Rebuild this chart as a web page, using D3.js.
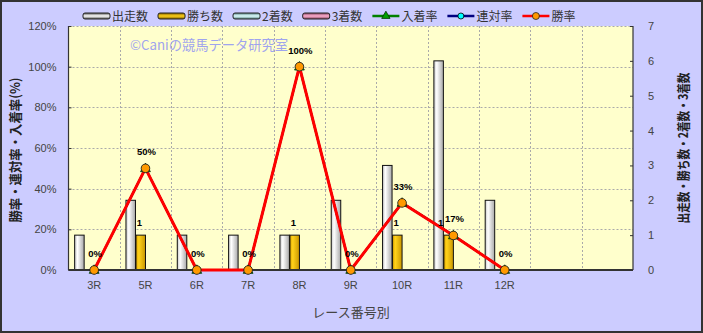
<!DOCTYPE html>
<html><head><meta charset="utf-8">
<script src="https://cdn.jsdelivr.net/npm/d3@7"></script>
<style>
html,body{margin:0;padding:0;background:#fff;}
svg{display:block;}
</style></head>
<body>
<svg id="chart" width="703" height="333"></svg>
<script>
// ---- data ----
const categories = ["3R","5R","6R","7R","8R","9R","10R","11R","12R"];
const emptySlots = ["_e1","_e2"];
const starts  = [1,2,1,1,1,2,3,6,2];      // 出走数
const wins    = [0,1,0,0,1,0,1,1,0];      // 勝ち数
const seconds = [0,0,0,0,0,0,0,0,0];      // 2着数
const thirds  = [0,0,0,0,0,0,0,0,0];      // 3着数
const placeRate = [0,50,0,0,100,0,33,17,0]; // 入着率 (%)
const rentaiRate = [0,50,0,0,100,0,33,17,0]; // 連対率 (%)
const winRate   = [0,50,0,0,100,0,33,17,0]; // 勝率 (%)
const leftTicks = [0,20,40,60,80,100,120];
const rightTicks = [0,1,2,3,4,5,6,7];
const barSeries = ["出走数","勝ち数","2着数","3着数"];
const lineSeries = ["入着率","連対率","勝率"];

const W = 703, H = 333;
const m = {left:68.5, right:633, top:26, bottom:270};
const svg = d3.select("#chart");
const defs = svg.append("defs");

// background
svg.append("rect").attr("x",0).attr("y",0).attr("width",W).attr("height",H).attr("fill","#CCCCFF");
svg.append("rect").attr("x",1).attr("y",1).attr("width",W-2).attr("height",H-2)
  .attr("fill","none").attr("stroke","#333").attr("stroke-width",2);

const x = d3.scaleBand().domain(categories.concat(emptySlots)).range([m.left, m.right]).padding(0);
const yL = d3.scaleLinear().domain([0,120]).range([m.bottom, m.top]);
const yR = d3.scaleLinear().domain([0,7]).range([m.bottom, m.top]);
const groupW = x.bandwidth()*0.78;
const x1 = d3.scaleBand().domain(barSeries).range([0, groupW]);

// plot area
svg.append("rect").attr("x",m.left).attr("y",m.top).attr("width",m.right-m.left).attr("height",m.bottom-m.top)
  .attr("fill","#FFFFCC");

// grid
const grid = svg.append("g").attr("stroke","#aaa").attr("stroke-width",1).attr("stroke-dasharray","2,2");
leftTicks.slice(1).forEach(t=>{
  grid.append("line").attr("x1",m.left).attr("x2",m.right).attr("y1",Math.round(yL(t))+0.5).attr("y2",Math.round(yL(t))+0.5);
});
x.domain().slice(1).forEach(d=>{
  const xx = Math.round(x(d))+0.5;
  grid.append("line").attr("x1",xx).attr("x2",xx).attr("y1",m.top).attr("y2",m.bottom);
});

// watermark
svg.append("text").attr("x",130).attr("y",50).attr("font-family","'Noto Sans CJK JP', sans-serif")
  .attr("font-size",13.5).attr("fill","#9FA4EE").attr("textLength",158).attr("lengthAdjust","spacingAndGlyphs")
  .text("©Caniの競馬データ研究室");

// gradients
function hGrad(id, edgeL, mid, edgeR){
  const g = defs.append("linearGradient").attr("id",id).attr("x1","0").attr("x2","1").attr("y1","0").attr("y2","0");
  g.append("stop").attr("offset","0%").attr("stop-color",edgeL);
  g.append("stop").attr("offset","30%").attr("stop-color",mid);
  g.append("stop").attr("offset","100%").attr("stop-color",edgeR);
}
function vGrad(id, edge, mid){
  const g = defs.append("linearGradient").attr("id",id).attr("x1","0").attr("x2","0").attr("y1","0").attr("y2","1");
  g.append("stop").attr("offset","0%").attr("stop-color",edge);
  g.append("stop").attr("offset","50%").attr("stop-color",mid);
  g.append("stop").attr("offset","100%").attr("stop-color",edge);
}
const barCols = [
  ["#c8c8c8","#ffffff","#a8a8a8"],
  ["#e0a800","#ffd21a","#c99600"],
  ["#a8e0e0","#e0ffff","#88c8c8"],
  ["#e080a8","#ffb0d0","#c86890"]
];
barCols.forEach((c,i)=>{ hGrad("bg"+i,c[0],c[1],c[2]); vGrad("lg"+i,i===0 ? "#555" : d3.color(c[2]).darker(1.2), c[1]); });

// bars
const barData = [starts, wins, seconds, thirds];
const bars = svg.append("g");
categories.forEach((cat,i)=>{
  const gx = x(cat) + (x.bandwidth()-groupW)/2;
  barSeries.forEach((s,j)=>{
    const v = barData[j][i];
    if (v <= 0) return;
    bars.append("rect")
      .attr("x", gx + x1(s)+0.5).attr("y", yR(v))
      .attr("width", x1.bandwidth()-0.5).attr("height", yR(0)-yR(v))
      .attr("fill","url(#bg"+j+")").attr("stroke","#111").attr("stroke-width",1);
  });
});

// axes lines
svg.append("line").attr("x1",m.left).attr("x2",m.left).attr("y1",m.top).attr("y2",m.bottom).attr("stroke","#333").attr("stroke-width",1.2);
svg.append("line").attr("x1",m.right).attr("x2",m.right).attr("y1",m.top).attr("y2",m.bottom).attr("stroke","#333").attr("stroke-width",1.2);
svg.append("line").attr("x1",m.left).attr("x2",m.right).attr("y1",m.bottom).attr("y2",m.bottom).attr("stroke","#333").attr("stroke-width",2);

// left axis
const gL = svg.append("g").attr("transform",`translate(${m.left},0)`)
  .call(d3.axisLeft(yL).tickValues(leftTicks).tickSize(-3).tickPadding(12).tickFormat(d=>d+"%"));
gL.select(".domain").remove();
gL.selectAll("line").attr("stroke","#333");
gL.selectAll("text").attr("font-family","'Liberation Sans', Arial, sans-serif").attr("font-size",11).attr("fill","#444");

// right axis
const gR = svg.append("g").attr("transform",`translate(${m.right},0)`)
  .call(d3.axisRight(yR).tickValues(rightTicks).tickSize(-3).tickPadding(15).tickFormat(d3.format("d")));
gR.select(".domain").remove();
gR.selectAll("line").attr("stroke","#333");
gR.selectAll("text").attr("font-family","'Liberation Sans', Arial, sans-serif").attr("font-size",11).attr("fill","#444");

// bottom axis
const gB = svg.append("g").attr("transform",`translate(0,${m.bottom})`)
  .call(d3.axisBottom(x).tickValues(categories).tickSize(0).tickPadding(11));
gB.select(".domain").remove();
gB.selectAll("text").attr("font-family","'Liberation Sans', Arial, sans-serif").attr("font-size",11).attr("fill","#444");

// axis titles
svg.append("text").attr("transform",`translate(20,150) rotate(-90)`).attr("text-anchor","middle")
  .attr("font-family","'Noto Sans CJK JP', sans-serif").attr("font-size",13).attr("font-weight","bold").attr("fill","#222")
  .attr("textLength",145).attr("lengthAdjust","spacingAndGlyphs")
  .text("勝率・連対率・入着率(%)");
svg.append("text").attr("transform",`translate(688,148) rotate(-90)`).attr("text-anchor","middle")
  .attr("font-family","'Noto Sans CJK JP', sans-serif").attr("font-size",13).attr("font-weight","bold").attr("fill","#222")
  .attr("textLength",151).attr("lengthAdjust","spacingAndGlyphs")
  .text("出走数・勝ち数・2着数・3着数");
svg.append("text").attr("x",351).attr("y",317).attr("text-anchor","middle")
  .attr("font-family","'Noto Sans CJK JP', sans-serif").attr("font-size",13).attr("fill","#444")
  .text("レース番号別");

// lines
const lineData = [placeRate, rentaiRate, winRate];
const lineCols = ["#008000","#000080","#FF0000"];
const lineW = [2,2,3];
const line = d3.line().x((d,i)=>x(categories[i])+x.bandwidth()/2).y(d=>yL(d));
lineData.forEach((arr,k)=>{
  svg.append("path").datum(arr).attr("d",line).attr("fill","none")
    .attr("stroke",lineCols[k]).attr("stroke-width",lineW[k]).attr("stroke-linejoin","round");
});
// markers
const tri = d3.symbol().type(d3.symbolTriangle).size(42);
placeRate.forEach((v,i)=>{
  svg.append("path").attr("d",tri).attr("transform",`translate(${x(categories[i])+x.bandwidth()/2},${yL(v)+0.5})`)
    .attr("fill","#00a000").attr("stroke","#003300").attr("stroke-width",0.8);
});
rentaiRate.forEach((v,i)=>{
  svg.append("circle").attr("cx",x(categories[i])+x.bandwidth()/2).attr("cy",yL(v)).attr("r",4)
    .attr("fill","#00ffff").attr("stroke","#000").attr("stroke-width",0.8);
});
winRate.forEach((v,i)=>{
  svg.append("circle").attr("cx",x(categories[i])+x.bandwidth()/2).attr("cy",yL(v)).attr("r",4.3)
    .attr("fill","#FF9900").attr("stroke","#222").attr("stroke-width",0.8);
});

// data labels
const lab = svg.append("g").attr("font-family","'Liberation Sans', Arial, sans-serif").attr("font-size",9.5)
  .attr("font-weight","bold").attr("fill","#000").attr("text-anchor","middle");
const rateLabels = winRate.map((v,i)=>
  lab.append("text").attr("x",x(categories[i])+x.bandwidth()/2 + 1).attr("y",yL(v)-13).text(v+"%"));
wins.forEach((v,i)=>{
  if (v<=0) return;
  const gx = x(categories[i]) + (x.bandwidth()-groupW)/2;
  const t = lab.append("text").attr("x",gx + x1("勝ち数") + x1.bandwidth()/2 - 1).attr("y",yR(v)-9).text(v);
  // resolve collision with the rate label of the same race by nudging left
  const a = t.node().getBBox(), b = rateLabels[i].node().getBBox();
  const overlapY = a.y < b.y + b.height && b.y < a.y + a.height;
  if (overlapY && a.x + a.width > b.x && a.x < b.x + b.width) {
    t.attr("x", +t.attr("x") - (a.x + a.width - b.x) - 1);
  }
});

// legend
const leg = svg.append("g");
let lx = 83; const ly = 16;
const legFont = "'Noto Sans CJK JP', sans-serif";
barSeries.forEach((s,j)=>{
  leg.append("rect").attr("x",lx).attr("y",ly-3).attr("width",27).attr("height",6).attr("rx",2)
    .attr("fill","url(#lg"+j+")").attr("stroke","#222").attr("stroke-width",1);
  const t = leg.append("text").attr("x",lx+29).attr("y",ly+4.5).attr("font-family",legFont).attr("font-size",12).attr("fill","#333").text(s);
  lx += 29 + t.node().getComputedTextLength() + 10;
});
lineSeries.forEach((s,k)=>{
  leg.append("line").attr("x1",lx).attr("x2",lx+27).attr("y1",ly).attr("y2",ly).attr("stroke",lineCols[k]).attr("stroke-width",2.5);
  if (k===0) leg.append("path").attr("d",d3.symbol().type(d3.symbolTriangle).size(30)).attr("transform",`translate(${lx+13.5},${ly})`).attr("fill","#00a000").attr("stroke","#003300").attr("stroke-width",0.8);
  if (k===1) leg.append("circle").attr("cx",lx+13.5).attr("cy",ly).attr("r",3).attr("fill","#00ffff").attr("stroke","#000").attr("stroke-width",0.8);
  if (k===2) leg.append("circle").attr("cx",lx+13.5).attr("cy",ly).attr("r",3.5).attr("fill","#FF9900").attr("stroke","#222").attr("stroke-width",0.8);
  const t = leg.append("text").attr("x",lx+29).attr("y",ly+4.5).attr("font-family",legFont).attr("font-size",12).attr("fill","#333").text(s);
  lx += 29 + t.node().getComputedTextLength() + 10;
});
</script>
</body></html>
